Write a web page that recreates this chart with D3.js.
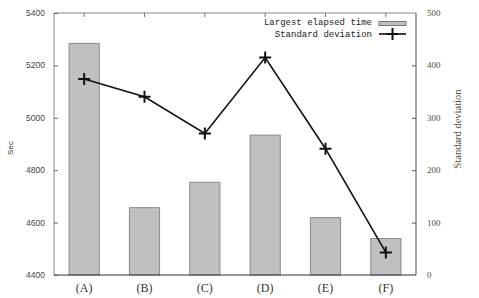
<!DOCTYPE html>
<html><head><meta charset="utf-8">
<script src="https://cdn.jsdelivr.net/npm/d3@7"></script>
<style>body{margin:0;background:#fff}svg{display:block}</style>
</head><body>
<svg id="c" width="479" height="298"></svg>
<script>
const categories = ["(A)","(B)","(C)","(D)","(E)","(F)"];
const elapsed = [5284, 4657, 4754, 4934, 4619, 4539];
const stddev = [374, 340, 270, 415, 241, 43];
const leftTicks = [4400,4600,4800,5000,5200,5400];
const rightTicks = [0,100,200,300,400,500];

const svg = d3.select("#c");
const L=54, R=416, T=13, B=275;
const x = d3.scaleBand().domain(categories).range([L,R]).paddingInner(0.5).paddingOuter(0.25);
const yL = d3.scaleLinear().domain([4400,5400]).range([B,T]);
const yR = d3.scaleLinear().domain([0,500]).range([B,T]);

// bars
svg.append("g").selectAll("rect").data(categories).join("rect")
  .attr("x", d=>x(d)).attr("width", x.bandwidth())
  .attr("y", (d,i)=>yL(elapsed[i])).attr("height",(d,i)=>B-yL(elapsed[i]))
  .attr("fill","#c0c0c0").attr("stroke","#8a8a8a").attr("stroke-width",1);

// frame
const frame = svg.append("g");
frame.append("line").attr("x1",L).attr("x2",R).attr("y1",T).attr("y2",T).attr("stroke","#888");
frame.append("line").attr("x1",L).attr("x2",L).attr("y1",T).attr("y2",B).attr("stroke","#888");
frame.append("line").attr("x1",R).attr("x2",R).attr("y1",T).attr("y2",B).attr("stroke","#555");
frame.append("line").attr("x1",L).attr("x2",R).attr("y1",B).attr("y2",B).attr("stroke","#333").attr("stroke-width",1.2);

// left axis
const gl = svg.append("g").attr("transform",`translate(${L},0)`)
  .call(d3.axisRight(yL).tickValues(leftTicks).tickSize(4).tickFormat(""));
gl.select(".domain").remove(); gl.selectAll("line").attr("stroke","#666");
svg.append("g").selectAll("text").data(leftTicks).join("text")
  .attr("x",45).attr("y",d=>yL(d)+3).attr("text-anchor","end")
  .attr("font-family","Liberation Sans, Arial, sans-serif").attr("font-size",8.5).attr("fill","#444")
  .text(d=>d);

// right axis
const gr = svg.append("g").attr("transform",`translate(${R},0)`)
  .call(d3.axisLeft(yR).tickValues(rightTicks.slice(1,5)).tickSize(4).tickFormat(""));
gr.select(".domain").remove(); gr.selectAll("line").attr("stroke","#555");
svg.append("g").selectAll("text").data(rightTicks).join("text")
  .attr("x",427).attr("y",d=>yR(d)+3).attr("text-anchor","start")
  .attr("font-family","Liberation Serif, Times New Roman, serif").attr("font-size",9).attr("fill","#5a4a3a")
  .text(d=>d);

// top ticks
const gt = svg.append("g").attr("transform",`translate(0,${T})`)
  .call(d3.axisBottom(x).tickSize(4).tickFormat(""));
gt.select(".domain").remove(); gt.selectAll("line").attr("stroke","#777");

// category labels
svg.append("g").selectAll("text").data(categories).join("text")
  .attr("x",d=>x(d)+x.bandwidth()/2).attr("y",292).attr("text-anchor","middle")
  .attr("font-family","Liberation Serif, Times New Roman, serif").attr("font-size",12).attr("fill","#333")
  .text(d=>d);

// axis titles
svg.append("text").attr("transform","translate(13,148) rotate(-90)").attr("text-anchor","middle")
  .attr("font-family","Liberation Sans, Arial, sans-serif").attr("font-size",8).attr("fill","#333").text("Sec");
svg.append("text").attr("transform","translate(461,129) rotate(-90)").attr("text-anchor","middle")
  .attr("font-family","Liberation Serif, Times New Roman, serif").attr("font-size",10.5).attr("fill","#5a4a3a").text("Standard deviation");

// line
const cx = d=>x(d)+x.bandwidth()/2;
const line = d3.line().x((d,i)=>cx(categories[i])).y(d=>yR(d));
svg.append("path").datum(stddev).attr("d",line).attr("fill","none").attr("stroke","#111").attr("stroke-width",1.6);
svg.append("g").selectAll("path").data(stddev).join("path")
  .attr("transform",(d,i)=>`translate(${cx(categories[i])},${yR(d)})`)
  .attr("d","M-6,0H6M0,-6V6").attr("stroke","#111").attr("stroke-width",2).attr("fill","none");

// legend
const lg = svg.append("g");
lg.append("text").attr("x",372).attr("y",25).attr("text-anchor","end")
  .attr("font-family","Liberation Mono, Courier New, monospace").attr("font-size",9).attr("fill","#222").text("Largest elapsed time");
lg.append("rect").attr("x",379).attr("y",21.5).attr("width",27).attr("height",4)
  .attr("fill","#c0c0c0").attr("stroke","#777");
lg.append("text").attr("x",372).attr("y",37).attr("text-anchor","end")
  .attr("font-family","Liberation Mono, Courier New, monospace").attr("font-size",9).attr("fill","#222").text("Standard deviation");
lg.append("line").attr("x1",379).attr("x2",406).attr("y1",34).attr("y2",34).attr("stroke","#111").attr("stroke-width",1.6);
lg.append("path").attr("transform","translate(392.5,34)").attr("d","M-6,0H6M0,-6V6").attr("stroke","#111").attr("stroke-width",2);
</script>
</body></html>
